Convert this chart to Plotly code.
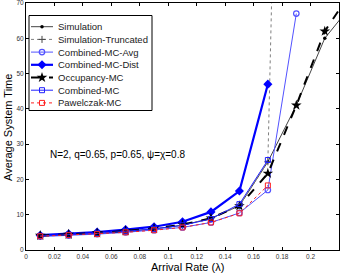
import plotly.graph_objects as go

x_all = [0.01, 0.03, 0.05, 0.07, 0.09, 0.11, 0.13, 0.15, 0.17, 0.19, 0.21, 0.23]
x_trunc = [0.01, 0.03, 0.05, 0.07, 0.09, 0.11, 0.13, 0.15, 0.17, 0.19]
x_short = [0.01, 0.03, 0.05, 0.07, 0.09, 0.11, 0.13, 0.15, 0.17]
x_avg = [0.01, 0.03, 0.05, 0.07, 0.09, 0.11, 0.13, 0.15, 0.17, 0.19]

sim = [4.0, 4.3, 4.7, 5.3, 6.0, 7.0, 9.0, 12.5, 25.0, 41.0, 60.0, 70.0]
sim_trunc = [4.0, 4.3, 4.7, 5.3, 6.0, 7.0, 9.0, 12.5, 25.0, 370.0]
cmc_avg = [3.8, 4.1, 4.5, 5.0, 5.6, 6.4, 7.8, 10.5, 17.0, 67.0]
cmc_dist = [4.2, 4.6, 5.1, 5.8, 6.6, 8.0, 10.8, 16.7, 47.0]
occ = [4.1, 4.4, 4.8, 5.4, 6.1, 7.2, 9.0, 12.5, 21.7, 41.0, 62.0, 74.0]
cmc = [4.0, 4.3, 4.7, 5.3, 6.0, 7.0, 8.8, 13.0, 25.5]
pawel = [3.9, 4.2, 4.5, 5.0, 5.6, 6.4, 7.8, 10.4, 18.3]

x_ticks = [0, 0.02, 0.04, 0.06, 0.08, 0.1, 0.12, 0.14, 0.16, 0.18, 0.2]
x_ticklabels = ["0", "0.02", "0.04", "0.06", "0.08", "0.1", "0.12", "0.14", "0.16", "0.18", "0.2"]
y_ticks = [0, 10, 20, 30, 40, 50, 60, 70]

series = [
    dict(name="Simulation", x=x_all, y=sim,
         line=dict(color="#444444", width=1),
         marker=dict(symbol="circle", size=3.5, color="black")),
    dict(name="Simulation-Truncated", x=x_trunc, y=sim_trunc,
         line=dict(color="#808080", width=1, dash="dot"),
         marker=dict(symbol="cross-thin", size=5, line=dict(color="#444444", width=1))),
    dict(name="Combined-MC-Avg", x=x_avg, y=cmc_avg,
         line=dict(color="#5252ff", width=1),
         marker=dict(symbol="circle-open", size=5.5, color="#5252ff", line=dict(width=1.2))),
    dict(name="Combined-MC-Dist", x=x_short, y=cmc_dist,
         line=dict(color="#0000ff", width=2.2),
         marker=dict(symbol="diamond", size=7, color="#0000ff")),
    dict(name="Occupancy-MC", x=x_all, y=occ,
         line=dict(color="black", width=2, dash="dash"),
         marker=dict(symbol="star", size=8, color="black")),
    dict(name="Combined-MC", x=x_short, y=cmc,
         line=dict(color="#2020ff", width=1),
         marker=dict(symbol="square-open", size=5, color="#2020ff", line=dict(width=1))),
    dict(name="Pawelczak-MC", x=x_short, y=pawel,
         line=dict(color="#ff2020", width=1, dash="dot"),
         marker=dict(symbol="square-open", size=5, color="#ff2020", line=dict(width=1))),
]

fig = go.Figure()
for s in series:
    fig.add_trace(go.Scatter(x=s["x"], y=s["y"], name=s["name"], mode="lines+markers",
                             line=s["line"], marker=s["marker"], showlegend=False,
                             xaxis="x", yaxis="y"))

# Plot-area pixel geometry
L, R, T, B = 26, 339, 3, 250
W, H = 341, 273


def px_x(p):
    return (p - L) / (R - L)


def px_y(p):
    return (B - p) / (B - T)


# Custom compact legend drawn in a pixel-coordinate overlay axis
leg_x0, leg_x1, leg_y0 = 31, 53, 26.7
row_h = 12.7
for i, s in enumerate(series):
    yy = leg_y0 + i * row_h
    fig.add_trace(go.Scatter(x=[leg_x0, leg_x1], y=[yy, yy], mode="lines",
                             line=s["line"], showlegend=False, hoverinfo="skip",
                             xaxis="x2", yaxis="y2"))
    fig.add_trace(go.Scatter(x=[(leg_x0 + leg_x1) / 2], y=[yy], mode="markers",
                             marker=s["marker"], showlegend=False, hoverinfo="skip",
                             xaxis="x2", yaxis="y2"))
    fig.add_annotation(text=s["name"], x=px_x(56), y=px_y(yy), xref="paper", yref="paper",
                       xanchor="left", yanchor="middle", showarrow=False,
                       font=dict(size=9.5, color="#222222"))
fig.add_shape(type="rect", x0=px_x(29), x1=px_x(152), y0=px_y(15.5), y1=px_y(110.5),
              xref="paper", yref="paper",
              line=dict(color="black", width=1), fillcolor="rgba(0,0,0,0)", layer="above")

fig.add_annotation(text="N=2, q=0.65, p=0.65, ψ=χ=0.8", x=px_x(48), y=px_y(154),
                   xref="paper", yref="paper",
                   xanchor="left", yanchor="middle", showarrow=False,
                   font=dict(size=10, color="black"))

# Axis titles
fig.add_annotation(text="Arrival Rate (λ)", x=px_x(188), y=px_y(266.5),
                   xref="paper", yref="paper",
                   xanchor="center", yanchor="middle", showarrow=False,
                   font=dict(size=11, color="black"))
fig.add_annotation(text="Average System Time", x=px_x(8), y=px_y(128),
                   xref="paper", yref="paper",
                   xanchor="center", yanchor="middle", showarrow=False, textangle=-90,
                   font=dict(size=11, color="black"))

axis_common = dict(showline=True, linecolor="black", linewidth=1, mirror="ticks",
                   ticks="inside", ticklen=3, tickcolor="black", showgrid=False, zeroline=False,
                   tickfont=dict(size=6.5, color="#333333"), automargin=False,
                   ticklabeloverflow="allow")
fig.update_layout(
    xaxis=dict(range=[0, 0.22], tickvals=x_ticks, ticktext=x_ticklabels, **axis_common),
    yaxis=dict(range=[0, 70], tickvals=y_ticks, **axis_common),
    xaxis2=dict(range=[L, R], overlaying="x", visible=False, fixedrange=True),
    yaxis2=dict(range=[B, T], overlaying="y", visible=False, fixedrange=True),
    width=W, height=H, margin=dict(l=L, r=W - R, t=T, b=H - B),
    paper_bgcolor="white", plot_bgcolor="white",
    font=dict(family="Liberation Sans, Arial, sans-serif", color="black"),
    showlegend=False,
)

fig.write_html("out.html", config={"displayModeBar": False},
               post_script="document.body.style.margin='0px';document.body.style.overflow='hidden';")
